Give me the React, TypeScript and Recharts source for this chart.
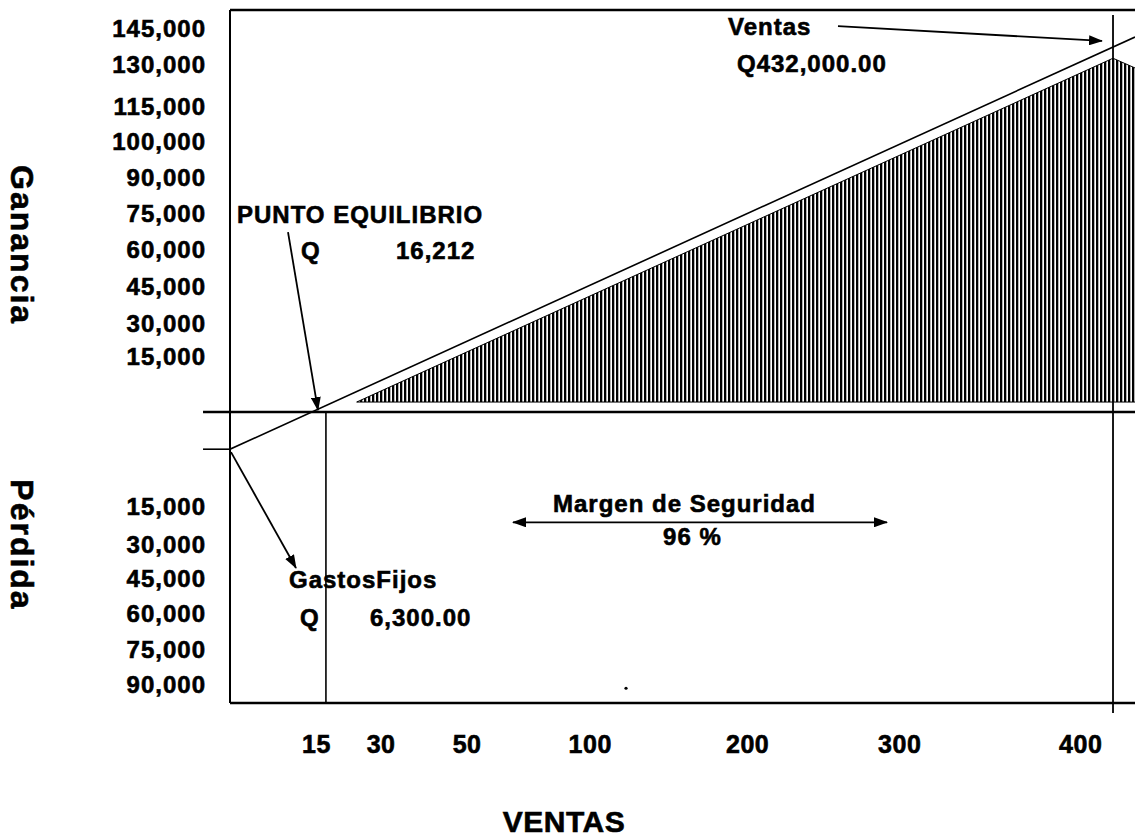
import React from 'react';
import { ComposedChart, Line, Area, XAxis, YAxis, ReferenceLine, ReferenceDot } from 'recharts';

const FONT = '"Liberation Sans", Arial, Helvetica, sans-serif';

// Schematic X axis (0–100 across the plot) – tick positions and labels (VENTAS)
const xTickPositions = [9.56, 16.7, 26.2, 39.8, 57.2, 74.0, 94.0];
const xTickLabels = ['15', '30', '50', '100', '200', '300', '400'];

// Schematic Y axis (0 = break-even line) – tick positions and labels
const yTickPositions = [10.65, 9.65, 8.49, 7.51, 6.51, 5.51, 4.51, 3.49, 2.46, 1.54, -2.63, -3.68, -4.63, -5.6, -6.6, -7.57];
const yTickLabels = [
  '145,000', '130,000', '115,000', '100,000', '90,000', '75,000', '60,000', '45,000', '30,000', '15,000',
  '15,000', '30,000', '45,000', '60,000', '75,000', '90,000',
];

const xDomain = [0, 100];
const yDomain = [-8.08, 11.17];

// Sales / result line (starts at fixed costs, crosses zero at break-even)
const salesLineX = [0, 100];
const salesLineY = [-1.03, 10.42];

// Hatched profit region
const profitX = [14.0, 97.57, 100];
const profitY = [0.28, 9.83, 9.56];
const profitBase = 0.28;

const breakEvenX = 10.6;
const salesX = 97.57;
const fixedCostY = -1.03;
const axisLeftExtent = -2.98;

// Annotation texts
const noteTexts = ['PUNTO EQUILIBRIO', 'Q', '16,212', 'Ventas', 'Q432,000.00', 'Margen de Seguridad', '96 %', 'GastosFijos', 'Q', '6,300.00'];
const noteX = [0.77, 7.85, 18.34, 55.03, 56.02, 35.69, 47.85, 6.52, 7.73, 15.47];
const noteY = [5.25, 4.25, 4.25, 10.47, 9.44, -2.78, -3.69, -4.89, -5.94, -5.94];

// Arrows
const arrowFromX = [6.41, 0.11, 67.18, 31.27];
const arrowFromY = [5.0, -1.11, 10.72, -3.06];
const arrowToX = [9.72, 7.29, 96.35, 72.6];
const arrowToY = [0.056, -4.33, 10.31, -3.06];
const arrowDouble = [false, false, false, true];

const sideTitles = ['Ganancia', 'Pérdida'];
const sideTitleY = [4.64, -3.69];
const sideTitleX = -24.2;
const xTitle = 'VENTAS';
const xTitleX = 36.9;
const xTitleY = -11.67;

const salesData = salesLineX.map((x, i) => ({ x, v: salesLineY[i] }));
const profitData = profitX.map((x, i) => ({ x, p: profitY[i] }));

const findIdx = (arr: number[], v: number) => arr.findIndex((a) => Math.abs(a - v) < 1e-6);

const BOLD = { fontFamily: FONT, fontWeight: 'bold' as const, fill: '#000', stroke: '#000', strokeWidth: 0.6 };

const YTick = (props: any) => {
  const { x, y, payload } = props;
  const i = findIdx(yTickPositions, payload.value);
  return (
    <text x={x} y={y} dy={8.5} textAnchor="end" fontSize={24} letterSpacing={1} {...BOLD}>
      {yTickLabels[i]}
    </text>
  );
};

const XTick = (props: any) => {
  const { x, y, payload } = props;
  const i = findIdx(xTickPositions, payload.value);
  return (
    <text x={x} y={y} textAnchor="middle" fontSize={25} letterSpacing={0.5} {...BOLD}>
      {xTickLabels[i]}
    </text>
  );
};

const arrowShape = (both: boolean) => (p: any) => (
  <line
    x1={p.x1}
    y1={p.y1}
    x2={p.x2}
    y2={p.y2}
    stroke="#000"
    strokeWidth={1.8}
    markerEnd="url(#arrowHead)"
    markerStart={both ? 'url(#arrowHead)' : undefined}
  />
);

const textShape = (label: string, opts: any = {}) => (p: any) => (
  <text
    x={p.cx}
    y={p.cy}
    textAnchor={opts.anchor || 'start'}
    fontSize={opts.size || 24}
    letterSpacing={opts.spacing ?? 1}
    {...BOLD}
    transform={opts.rotate ? `rotate(90, ${p.cx}, ${p.cy})` : undefined}
  >
    {label}
  </text>
);

export default function App() {
  return (
    <div style={{ position: 'absolute', left: 0, top: 0, width: 1135, height: 838, background: '#fff', overflow: 'hidden' }}>
      <svg width={0} height={0} style={{ position: 'absolute' }}>
        <defs>
          <pattern id="hatch" width={4} height={8} patternUnits="userSpaceOnUse">
            <rect x={0} y={0} width={4} height={8} fill="#fff" />
            <rect x={0} y={0} width={2.3} height={8} fill="#000" />
          </pattern>
          <marker id="arrowHead" markerWidth={14} markerHeight={10} refX={13} refY={5} orient="auto-start-reverse" markerUnits="userSpaceOnUse">
            <path d="M0,0 L14,5 L0,10 z" fill="#000" />
          </marker>
        </defs>
      </svg>
      <ComposedChart width={1135} height={838} margin={{ top: 10, right: 0, bottom: 75, left: 100 }}>
        <XAxis
          type="number"
          dataKey="x"
          domain={xDomain}
          allowDataOverflow
          ticks={xTickPositions}
          interval={0}
          tick={<XTick />}
          tickLine={false}
          tickSize={0}
          tickMargin={50}
          height={60}
          axisLine={{ stroke: '#000', strokeWidth: 2.5 }}
        />
        <YAxis
          type="number"
          domain={yDomain}
          allowDataOverflow
          ticks={yTickPositions}
          interval={0}
          tick={<YTick />}
          tickLine={false}
          tickSize={0}
          tickMargin={24}
          width={130}
          axisLine={{ stroke: '#000', strokeWidth: 2 }}
        />
        <Area
          data={profitData}
          dataKey="p"
          type="linear"
          baseValue={profitBase}
          fill="url(#hatch)"
          fillOpacity={1}
          stroke="#000"
          strokeWidth={1}
          dot={false}
          activeDot={false}
          isAnimationActive={false}
        />
        <ReferenceLine segment={[{ x: profitX[0], y: profitBase }, { x: xDomain[1], y: profitBase }]} stroke="#000" strokeWidth={1} />
        <Line
          data={salesData}
          dataKey="v"
          type="linear"
          stroke="#000"
          strokeWidth={1.6}
          dot={false}
          activeDot={false}
          isAnimationActive={false}
        />
        <ReferenceLine y={yDomain[1]} stroke="#000" strokeWidth={2.5} ifOverflow="visible" />
        <ReferenceLine segment={[{ x: axisLeftExtent, y: 0 }, { x: xDomain[1], y: 0 }]} stroke="#000" strokeWidth={2.5} ifOverflow="visible" />
        <ReferenceLine segment={[{ x: axisLeftExtent, y: fixedCostY }, { x: 0, y: fixedCostY }]} stroke="#000" strokeWidth={1.6} ifOverflow="visible" />
        <ReferenceLine segment={[{ x: breakEvenX, y: 0 }, { x: breakEvenX, y: yDomain[0] }]} stroke="#000" strokeWidth={1.6} ifOverflow="visible" />
        <ReferenceLine segment={[{ x: salesX, y: 11.03 }, { x: salesX, y: -8.36 }]} stroke="#000" strokeWidth={1.8} ifOverflow="visible" />
        {arrowFromX.map((_, i) => (
          <ReferenceLine
            key={'a' + i}
            segment={[{ x: arrowFromX[i], y: arrowFromY[i] }, { x: arrowToX[i], y: arrowToY[i] }]}
            ifOverflow="visible"
            shape={arrowShape(arrowDouble[i])}
          />
        ))}
        {noteTexts.map((t, i) => (
          <ReferenceDot key={'n' + i} x={noteX[i]} y={noteY[i]} r={1} ifOverflow="visible" shape={textShape(t)} />
        ))}
        {sideTitles.map((t, i) => (
          <ReferenceDot
            key={'s' + i}
            x={sideTitleX}
            y={sideTitleY[i]}
            r={1}
            ifOverflow="visible"
            shape={textShape(t, { anchor: 'middle', size: 32, spacing: 2, rotate: true })}
          />
        ))}
        <ReferenceDot x={xTitleX} y={xTitleY} r={1} ifOverflow="visible" shape={textShape(xTitle, { anchor: 'middle', size: 30, spacing: 0.5 })} />
        <ReferenceDot x={43.76} y={-7.67} r={1.6} fill="#000" stroke="none" ifOverflow="visible" />
      </ComposedChart>
    </div>
  );
}
